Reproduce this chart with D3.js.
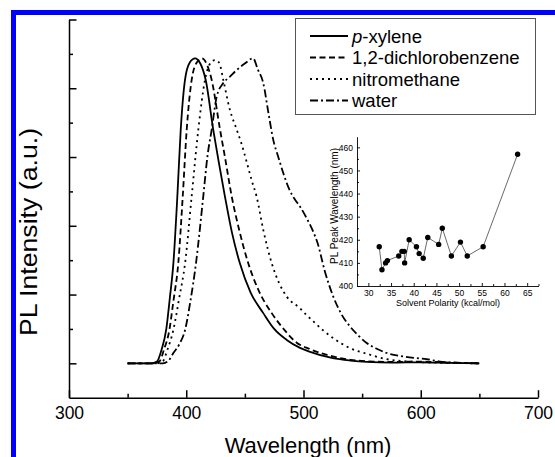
<!DOCTYPE html>
<html>
<head>
<meta charset="utf-8">
<script src="https://cdn.jsdelivr.net/npm/d3@7"></script>
<style>
    body { margin: 0; background: #fff; }
    svg { display: block; font-family: "Liberation Sans", Arial, sans-serif; }
</style>
</head>
<body>
<div id="chart"></div>
<script>
const WIDTH = 555;
const HEIGHT = 457;

// PL spectra, [wavelength (nm), intensity (a.u.)]
const pXylene = [[350,0],[370,0],[375,0.005],[379,0.04],[383,0.1],[386,0.19],[389,0.29],[392.4,0.485],[395.3,0.68],[398.9,0.824],[403,0.875],[407.5,0.887],[412,0.872],[416.6,0.824],[423,0.68],[428,0.58],[433,0.485],[439,0.38],[445.8,0.29],[455,0.205],[465.7,0.146],[475,0.1],[485.7,0.068],[497,0.045],[505,0.034],[525,0.015],[540,0.008],[554,0.004],[575,0.002],[600,0.003],[625,0.001],[650,0]];
const dichlorobenzene = [[350,0],[372,0],[377,0.005],[381,0.04],[385.6,0.097],[389,0.18],[393.2,0.291],[397,0.485],[400.4,0.68],[404.6,0.824],[409,0.875],[413.4,0.887],[417.5,0.87],[421.7,0.824],[428.8,0.68],[433,0.6],[438.8,0.485],[445,0.39],[452.9,0.291],[462,0.21],[472.9,0.146],[483,0.1],[494.2,0.06],[505,0.042],[525,0.02],[540,0.01],[555,0.006],[575,0.004],[600,0.005],[625,0.002],[650,0]];
const nitromethane = [[350,0],[375,0],[380,0.006],[384,0.04],[389,0.097],[394,0.19],[399,0.291],[404.6,0.485],[410.3,0.68],[416,0.824],[420,0.87],[424.5,0.882],[428,0.875],[431.6,0.824],[437,0.74],[443,0.68],[447,0.64],[451.6,0.585],[456,0.53],[460,0.485],[465.7,0.388],[472.9,0.291],[479,0.235],[485.7,0.194],[497,0.16],[502.7,0.14],[508.4,0.122],[517,0.095],[525.4,0.073],[539.7,0.044],[553.9,0.028],[571,0.012],[597,0.004],[625,0.001],[650,0]];
const water = [[350,0],[380,0],[385,0.008],[389,0.03],[394,0.055],[399,0.097],[403.5,0.18],[408.3,0.291],[414.5,0.485],[418,0.6],[421.7,0.68],[426,0.776],[431.6,0.815],[437.3,0.834],[443,0.853],[450,0.872],[457.1,0.887],[461,0.855],[465.7,0.815],[470,0.73],[474.2,0.65],[478.5,0.6],[482.8,0.553],[488,0.505],[492,0.48],[497,0.456],[503,0.42],[508,0.385],[512,0.35],[518,0.27],[525.4,0.194],[532,0.145],[539.7,0.107],[547,0.08],[553.9,0.059],[562,0.043],[571,0.03],[585,0.02],[596.5,0.015],[605,0.012],[616.4,0.005],[630,0.002],[650,0]];

const SERIES_NAMES = ['p-xylene', '1,2-dichlorobenzene', 'nitromethane', 'water'];
const X_MAJOR = [300, 400, 500, 600, 700];
const X_MINOR = [350, 450, 550, 650];
const Y_MAJOR = [0, 0.2, 0.4, 0.6, 0.8, 1.0];
const Y_MINOR = [0.1, 0.3, 0.5, 0.7, 0.9];

// inset: peak wavelength vs solvent polarity
const polarity = [32.4, 33.0, 33.8, 34.2, 36.7, 37.4, 37.9, 38.0, 39.0, 40.6, 41.2, 42.1, 43.1, 45.5, 46.3, 48.3, 50.3, 51.8, 55.3, 62.9];
const peakWavelength = [417, 407, 410, 411, 413, 415, 415, 410, 420, 417, 414, 412, 421, 418, 425, 413, 419, 413, 417, 457];
const INSET_X_MAJOR = [30, 35, 40, 45, 50, 55, 60, 65];
const INSET_X_MINOR = [32.5, 37.5, 42.5, 47.5, 52.5, 57.5, 62.5, 67.5];
const INSET_Y_MAJOR = [400, 410, 420, 430, 440, 450, 460];
const INSET_Y_MINOR = [405, 415, 425, 435, 445, 455];

const DASHES = ['none', '6,3.5', '2,4', '8,3,2,3'];

let svg = d3.select('#chart')
    .append('svg')
    .attr('width', WIDTH)
    .attr('height', HEIGHT);

// blue frame
svg.append('rect')
    .attr('x', 13.5).attr('y', 12.5)
    .attr('width', 600).attr('height', 500)
    .attr('fill', 'none')
    .attr('stroke', '#0000ff')
    .attr('stroke-width', 5);

let x = d3.scaleLinear().domain([300, 700]).range([69, 538]);
let y = d3.scaleLinear().domain([-0.1, 1.0]).range([397.7, 19.5]);

function styleAxis(g, width, fontSize) {
    g.attr('font-family', null).attr('font-size', fontSize);
    g.selectAll('line').attr('stroke', '#000').attr('stroke-width', width);
    g.select('.domain').attr('stroke', '#000').attr('stroke-width', width);
    g.selectAll('text').attr('fill', '#000');
}

// x-axis
svg.append('g')
    .attr('transform', `translate(0,${y(-0.1)})`)
    .call(d3.axisBottom(x).tickValues(X_MAJOR).tickSize(-7.5).tickSizeOuter(0).tickPadding(9))
    .call(g => styleAxis(g, 1.5, 17.5));
svg.append('g')
    .attr('transform', `translate(0,${y(-0.1)})`)
    .call(d3.axisBottom(x).tickValues(X_MINOR).tickSize(-4).tickFormat(''))
    .call(g => { styleAxis(g, 1.5, 10); g.select('.domain').remove(); });

// y-axis
svg.append('g')
    .attr('transform', `translate(${x(300)},0)`)
    .call(d3.axisLeft(y).tickValues(Y_MAJOR).tickSize(-7.5).tickSizeOuter(0).tickFormat(''))
    .call(g => styleAxis(g, 1.5, 10));
svg.append('g')
    .attr('transform', `translate(${x(300)},0)`)
    .call(d3.axisLeft(y).tickValues(Y_MINOR).tickSize(-4).tickFormat(''))
    .call(g => { styleAxis(g, 1.5, 10); g.select('.domain').remove(); });

svg.append('text')
    .attr('x', 308).attr('y', 453)
    .attr('text-anchor', 'middle')
    .attr('font-size', 22)
    .text('Wavelength (nm)');

svg.append('text')
    .attr('transform', 'translate(37,232) rotate(-90)')
    .attr('text-anchor', 'middle')
    .attr('font-size', 23)
    .attr('textLength', 208)
    .attr('lengthAdjust', 'spacingAndGlyphs')
    .text('PL Intensity (a.u.)');

// spectra
let line = d3.line()
    .x(d => x(d[0]))
    .y(d => y(d[1]))
    .curve(d3.curveMonotoneX);

[pXylene, dichlorobenzene, nitromethane, water].forEach((s, i) => {
    svg.append('path')
        .datum(s)
        .attr('d', line)
        .attr('fill', 'none')
        .attr('stroke', '#000')
        .attr('stroke-width', 1.8)
        .attr('stroke-dasharray', DASHES[i]);
});

// legend
let legend = svg.append('g').attr('id', 'legend');
legend.append('rect')
    .attr('x', 295.5).attr('y', 18.5)
    .attr('width', 240).attr('height', 96)
    .attr('fill', '#fff')
    .attr('stroke', '#555')
    .attr('stroke-width', 1);

SERIES_NAMES.forEach((name, i) => {
    let row = legend.append('g').attr('transform', `translate(0,${36 + i * 21.5})`);
    row.append('line')
        .attr('x1', 310).attr('x2', 348)
        .attr('stroke', '#000')
        .attr('stroke-width', 1.8)
        .attr('stroke-dasharray', DASHES[i]);
    let t = row.append('text')
        .attr('x', 352).attr('dy', '0.36em')
        .attr('font-size', 18.5);
    if (name.startsWith('p-')) {
        t.append('tspan').attr('font-style', 'italic').text('p');
        t.append('tspan').text(name.slice(1));
    } else {
        t.text(name);
    }
});

// inset
let xi = d3.scaleLinear().domain([27.5, 67.5]).range([357, 538.5]);
let yi = d3.scaleLinear().domain([400, 464.6]).range([286, 136.7]);

svg.append('g')
    .attr('transform', `translate(0,${yi(400)})`)
    .call(d3.axisBottom(xi).tickValues(INSET_X_MAJOR).tickSize(-3).tickSizeOuter(0).tickPadding(3.5))
    .call(g => styleAxis(g, 0.9, 8.5));
svg.append('g')
    .attr('transform', `translate(0,${yi(400)})`)
    .call(d3.axisBottom(xi).tickValues(INSET_X_MINOR).tickSize(-2).tickFormat(''))
    .call(g => { styleAxis(g, 0.9, 8); g.select('.domain').remove(); });

svg.append('g')
    .attr('transform', `translate(${xi(27.5)},0)`)
    .call(d3.axisLeft(yi).tickValues(INSET_Y_MAJOR).tickSize(-3).tickSizeOuter(0).tickPadding(4))
    .call(g => styleAxis(g, 0.9, 8.5));
svg.append('g')
    .attr('transform', `translate(${xi(27.5)},0)`)
    .call(d3.axisLeft(yi).tickValues(INSET_Y_MINOR).tickSize(-2).tickFormat(''))
    .call(g => { styleAxis(g, 0.9, 8); g.select('.domain').remove(); });

svg.append('text')
    .attr('x', 448).attr('y', 306)
    .attr('text-anchor', 'middle')
    .attr('font-size', 9)
    .text('Solvent Polarity (kcal/mol)');

svg.append('text')
    .attr('transform', 'translate(337.5,206) rotate(-90)')
    .attr('text-anchor', 'middle')
    .attr('font-size', 10)
    .text('PL Peak Wavelength (nm)');

let insetPoints = polarity.map((p, i) => [p, peakWavelength[i]]);

svg.append('path')
    .datum(insetPoints)
    .attr('d', d3.line().x(d => xi(d[0])).y(d => yi(d[1])))
    .attr('fill', 'none')
    .attr('stroke', '#444')
    .attr('stroke-width', 0.8);

svg.append('g')
    .selectAll('circle')
    .data(insetPoints)
    .enter()
    .append('circle')
    .attr('cx', d => xi(d[0]))
    .attr('cy', d => yi(d[1]))
    .attr('r', 2.7)
    .attr('fill', '#000');
</script>
</body>
</html>
